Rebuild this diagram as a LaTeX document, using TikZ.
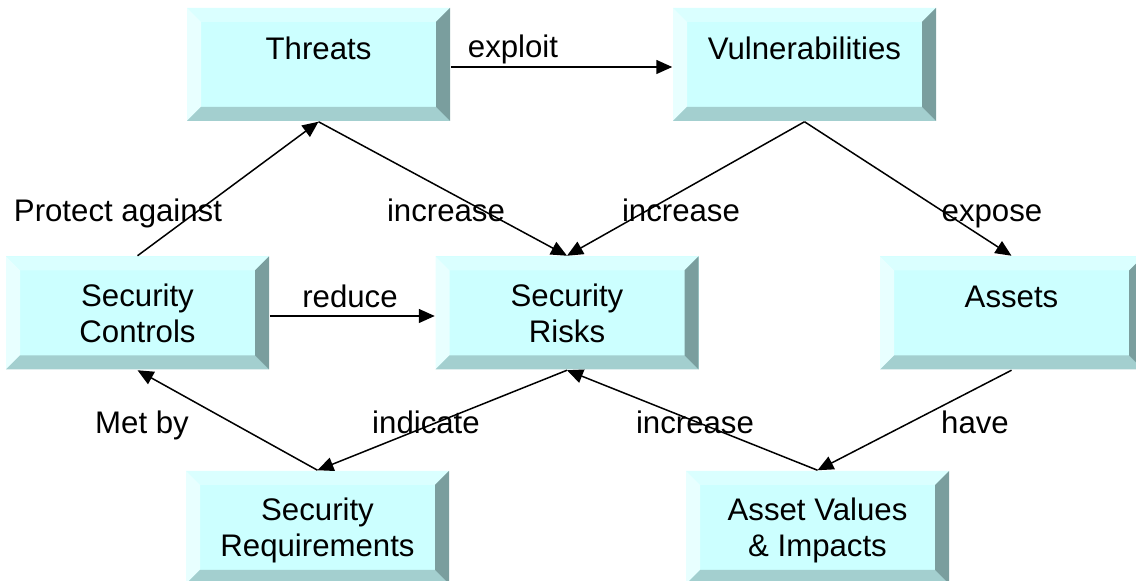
\documentclass[tikz,border=0pt]{standalone}
\usepackage{fontspec}
\setmainfont{Liberation Sans}
\usetikzlibrary{arrows.meta}
\definecolor{face}{RGB}{204,255,255}
\definecolor{bevtop}{RGB}{218,255,255}
\definecolor{bevleft}{RGB}{232,255,255}
\definecolor{bevbot}{RGB}{163,207,207}
\definecolor{bevright}{RGB}{122,158,158}

\begin{document}
\begin{tikzpicture}[x=0.5pt,y=-0.5pt,->,>={Triangle[length=8pt,width=7pt]},line width=0.75pt,
  block/.style = {rectangle,fill=face,inner sep=0pt,minimum width=131.5pt,minimum height=56.5pt,
    align=center,text depth=0pt,font=\fontsize{15.6}{18}\selectfont,
    path picture={
      \coordinate (nw) at (path picture bounding box.north west);
      \coordinate (ne) at (path picture bounding box.north east);
      \coordinate (sw) at (path picture bounding box.south west);
      \coordinate (se) at (path picture bounding box.south east);
      \fill[bevtop,-] (nw) -- (ne) -- ([shift={(-7pt,-7pt)}]ne) -- ([shift={(7pt,-7pt)}]nw) -- cycle;
      \fill[bevleft,-] (nw) -- ([shift={(7pt,-7pt)}]nw) -- ([shift={(7pt,7pt)}]sw) -- (sw) -- cycle;
      \fill[bevbot,-] (sw) -- (se) -- ([shift={(-7pt,7pt)}]se) -- ([shift={(7pt,7pt)}]sw) -- cycle;
      \fill[bevright,-] (ne) -- (se) -- ([shift={(-7pt,7pt)}]se) -- ([shift={(-7pt,-7pt)}]ne) -- cycle;
    }},
  one/.style = {text depth=16pt},
  lbl/.style = {anchor=base,font=\fontsize{15.6}{18}\selectfont}]

\useasboundingbox (0,0) rectangle (1136,581);

\node[block,one] (threats) at (318.5,64.5) {Threats};
\node[block,one] (vuln) at (804.5,64.5) {Vulnerabilities};
\node[block] (controls) at (137.5,313) {Security\\Controls};
\node[block] (risks) at (567,313) {Security\\Risks};
\node[block,one] (assets) at (1011.5,313) {Assets};
\node[block] (reqs) at (317.5,527.5) {Security\\Requirements};
\node[block] (values) at (817.5,527.5) {Asset Values\\\& Impacts};

\node[lbl] (exploit) at (513,58) {exploit};
\node[lbl] (protect) at (118,222) {Protect against};
\node[lbl] (incr1) at (446,222) {increase};
\node[lbl] (incr2) at (681,222) {increase};
\node[lbl] (expose) at (992,222) {expose};
\node[lbl] (reduce) at (350,308) {reduce};
\node[lbl] (metby) at (142,434) {Met by};
\node[lbl] (indicate) at (426,434) {indicate};
\node[lbl] (incr3) at (695,434) {increase};
\node[lbl] (have) at (975,434) {have};

\path ([yshift=-1.25pt]threats.east) edge ([yshift=-1.25pt]vuln.west);
\path ([yshift=-1.5pt]controls.east) edge ([yshift=-1.5pt]risks.west);
\path (controls.north) edge (threats.south);
\path (threats.south) edge (risks.north);
\path (vuln.south) edge (risks.north);
\path (vuln.south) edge (assets.north);
\path (reqs.north) edge (controls.south);
\path (risks.south) edge (reqs.north);
\path (values.north) edge (risks.south);
\path (assets.south) edge (values.north);

\end{tikzpicture}
\end{document}
